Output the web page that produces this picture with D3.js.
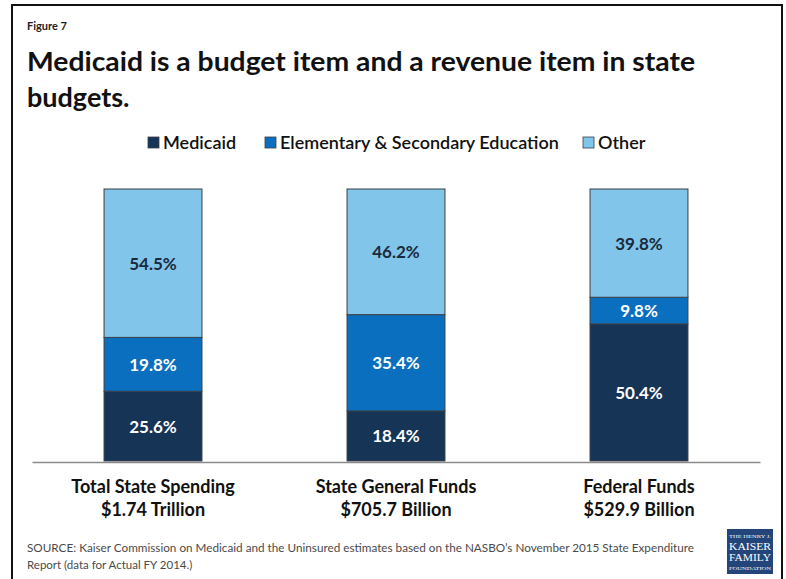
<!DOCTYPE html>
<html>
<head>
<meta charset="utf-8">
<script src="https://cdn.jsdelivr.net/npm/d3@7"></script>
<style>
  body { margin: 0; background: #fff; }
  svg { display: block; }
</style>
</head>
<body>
<svg id="chart" width="786" height="579"></svg>
<script>
const categories = ["Total State Spending", "State General Funds", "Federal Funds"];
const totals = ["$1.74 Trillion", "$705.7 Billion", "$529.9 Billion"];
const seriesNames = ["Medicaid", "Elementary & Secondary Education", "Other"];
const medicaid = [25.6, 18.4, 50.4];
const education = [19.8, 35.4, 9.8];
const other = [54.5, 46.2, 39.8];

const colors = ["#163456", "#0a6fbf", "#82c5ea"];
const labelColors = ["#ffffff", "#ffffff", "#1b2a3c"];
const font = "Lato, 'Open Sans', sans-serif";

const width = 786, height = 579;
const svg = d3.select("#chart");

// frame
svg.append("rect")
  .attr("x", 12).attr("y", 5)
  .attr("width", 770).attr("height", 600)
  .attr("fill", "none")
  .attr("stroke", "#111")
  .attr("stroke-width", 2);

svg.append("text")
  .attr("x", 27).attr("y", 30)
  .attr("font-family", font).attr("font-weight", 700)
  .attr("font-size", 11).attr("fill", "#222")
  .text("Figure 7");

const title = svg.append("text")
  .attr("font-family", font).attr("font-weight", 700)
  .attr("font-size", 27).attr("fill", "#111");
title.append("tspan").attr("x", 27).attr("y", 71)
  .attr("textLength", 668).attr("lengthAdjust", "spacingAndGlyphs")
  .text("Medicaid is a budget item and a revenue item in state");
title.append("tspan").attr("x", 27).attr("y", 107)
  .text("budgets.");

// data table for the stack
const data = categories.map((c, i) => ({
  category: c,
  "Medicaid": medicaid[i],
  "Elementary & Secondary Education": education[i],
  "Other": other[i]
}));

const stack = d3.stack().keys(seriesNames).offset(d3.stackOffsetExpand);
const stacked = stack(data);

const xScale = d3.scaleBand()
  .domain(categories)
  .range([32, 760])
  .paddingInner(0.597)
  .paddingOuter(0.2965);

const yScale = d3.scaleLinear()
  .domain([0, 1])
  .range([461, 189]);

const layers = svg.selectAll(".layer")
  .data(stacked)
  .join("g")
  .attr("class", "layer")
  .attr("fill", (d, i) => colors[i]);

layers.selectAll("rect")
  .data(d => d)
  .join("rect")
  .attr("x", d => xScale(d.data.category))
  .attr("y", d => yScale(d[1]))
  .attr("width", xScale.bandwidth())
  .attr("height", d => yScale(d[0]) - yScale(d[1]))
  .attr("stroke", "#3a3f46")
  .attr("stroke-width", 1);

layers.each(function(layer, li) {
  d3.select(this).selectAll("text")
    .data(layer)
    .join("text")
    .attr("x", d => xScale(d.data.category) + xScale.bandwidth() / 2)
    .attr("y", d => (yScale(d[0]) + yScale(d[1])) / 2 + 6.5)
    .attr("text-anchor", "middle")
    .attr("font-family", font).attr("font-weight", 700)
    .attr("font-size", 17)
    .attr("fill", labelColors[li])
    .text(d => d3.format(".1f")(d.data[layer.key]) + "%");
});

// baseline axis
const xAxis = svg.append("g")
  .attr("transform", "translate(0,462)")
  .call(d3.axisBottom(xScale).tickSize(0).tickFormat(""));
xAxis.select(".domain").attr("stroke", "#8a8a8a").attr("stroke-width", 1.5);

const catLabels = xAxis.selectAll(".tick text")
  .attr("fill", "#111")
  .attr("font-family", font).attr("font-weight", 700)
  .attr("font-size", 18)
  .attr("y", 0).attr("dy", 0);
catLabels.each(function(d, i) {
  const t = d3.select(this);
  t.text(null);
  t.append("tspan").attr("x", 0).attr("y", 31).text(categories[i]);
  t.append("tspan").attr("x", 0).attr("y", 54).text(totals[i]);
});

// legend
const legendX = [148, 265, 583];
const legend = svg.selectAll(".legend")
  .data(seriesNames)
  .join("g")
  .attr("class", "legend")
  .attr("transform", (d, i) => `translate(${legendX[i]},137)`);
legend.append("rect")
  .attr("width", 11).attr("height", 11)
  .attr("fill", (d, i) => colors[i])
  .attr("stroke", "#3a3f46").attr("stroke-width", 0.8);
legend.append("text")
  .attr("x", 15).attr("y", 11.5)
  .attr("font-family", font).attr("font-size", 18).attr("font-weight", 600)
  .attr("fill", "#111")
  .text(d => d);

// source
const source = svg.append("text")
  .attr("font-family", font).attr("font-size", 11.5)
  .attr("fill", "#4a4a4a");
source.append("tspan").attr("x", 27).attr("y", 552)
  .attr("textLength", 667).attr("lengthAdjust", "spacingAndGlyphs")
  .text("SOURCE: Kaiser Commission on Medicaid and the Uninsured estimates based on the NASBO\u2019s November 2015 State Expenditure");
source.append("tspan").attr("x", 27).attr("y", 569)
  .text("Report (data for Actual FY 2014.)");

// logo
const logo = svg.append("g").attr("transform", "translate(727,529)");
logo.append("rect").attr("width", 46).attr("height", 45).attr("fill", "#24457a");
const logoLines = [["THE HENRY J.", 5, 9], ["KAISER", 11, 21], ["FAMILY", 11, 32], ["FOUNDATION", 4.5, 41]];
logo.selectAll("text")
  .data(logoLines)
  .join("text")
  .attr("x", 23).attr("y", d => d[2])
  .attr("text-anchor", "middle")
  .attr("font-family", "'Liberation Serif', serif")
  .attr("font-size", d => d[1])
  .attr("fill", "#fff")
  .attr("textLength", 42).attr("lengthAdjust", "spacingAndGlyphs")
  .text(d => d[0]);
</script>
</body>
</html>
